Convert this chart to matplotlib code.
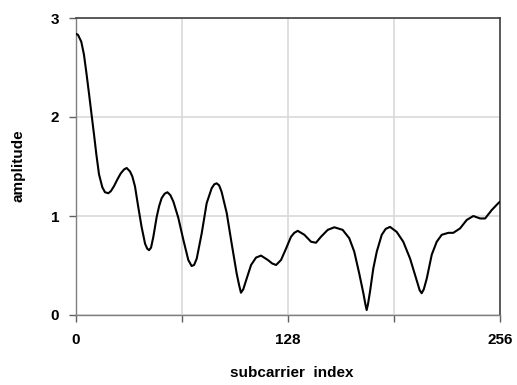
import matplotlib
matplotlib.use("Agg")
import matplotlib.pyplot as plt

subcarrier = [0, 1.2, 3.2, 4.8, 6.4, 7.9, 9.5, 10.9, 12.3, 13.9, 15.9, 17.5, 19.5, 21, 22.9, 25, 27, 29, 30.6,
              32.6, 34, 35.6, 37.6, 39.6, 41.7, 43, 44.1, 45.3, 46.7, 48.7, 50.2, 51.7, 53.5, 55.2, 57, 58.8, 61.8,
              64.8, 67.8, 69.8, 71.3, 72.9, 75.9, 78.9, 81.9, 83.5, 84.9, 86.4, 87.9, 91, 94, 97, 98.5, 99.6,
              101, 102.7, 105.7, 108.7, 111.7, 115.8, 118.5, 120.8, 123.8, 126.8, 129.8, 131.8, 133.9, 137.9,
              141.9, 144.9, 147.9, 152, 156, 161, 165, 168, 171, 173.5, 174.7, 175.5, 176.3, 177.5, 179.5,
              181.6, 184.6, 187, 189.6, 193.6, 197.6, 201.7, 205.7, 207.5, 208.7, 210, 211.8, 214.8, 217.8,
              220.8, 224.8, 227.8, 231.9, 235.9, 239.9, 244, 247, 251, 255, 256]
amplitude = [2.84, 2.83, 2.76, 2.63, 2.43, 2.23, 2.01, 1.82, 1.62, 1.42, 1.29, 1.24, 1.23, 1.25, 1.30, 1.37, 1.43, 1.47, 1.485,
             1.45, 1.40, 1.30, 1.09, 0.89, 0.72, 0.67, 0.655, 0.68, 0.79, 0.99, 1.10, 1.18, 1.225, 1.24, 1.21, 1.145, 0.98,
             0.76, 0.556, 0.495, 0.505, 0.57, 0.825, 1.13, 1.28, 1.32, 1.33, 1.31, 1.245, 1.03, 0.72, 0.42, 0.30, 0.225,
             0.26, 0.35, 0.505, 0.58, 0.60, 0.556, 0.52, 0.505, 0.556, 0.67, 0.79, 0.83, 0.85, 0.81,
             0.74, 0.73, 0.79, 0.86, 0.886, 0.86, 0.775, 0.64, 0.42, 0.22, 0.11, 0.05, 0.11, 0.235, 0.47,
             0.64, 0.81, 0.87, 0.89, 0.84, 0.74, 0.57, 0.35, 0.25, 0.22, 0.26, 0.37, 0.61, 0.74,
             0.81, 0.83, 0.83, 0.875, 0.96, 1.00, 0.975, 0.975, 1.06, 1.13, 1.145]

x_ticks = [0, 64, 128, 192, 256]
x_tick_labels = ["0", "", "128", "", "256"]
y_ticks = [0, 1, 2, 3]
y_tick_labels = ["0", "1", "2", "3"]

plt.rcParams['font.family'] = ['Liberation Sans', 'DejaVu Sans']

W, H = 517, 385
fig = plt.figure(figsize=(W/100, H/100), dpi=100)
ax = fig.add_axes([76/W, 70/H, 424/W, 297/H])

ax.plot(subcarrier, amplitude, color='black', linewidth=1.5, solid_capstyle='round', solid_joinstyle='round', zorder=3)

ax.set_xlim(0, 256)
ax.set_ylim(0, 3)
ax.set_xticks(x_ticks)
ax.set_xticklabels(x_tick_labels, fontweight='bold', fontsize=11)
ax.set_yticks(y_ticks)
ax.set_yticklabels(y_tick_labels, fontweight='bold', fontsize=11)
ax.grid(True, color='#d9d9d9', linewidth=1.2, zorder=0)
ax.set_axisbelow(True)

ax.tick_params(axis='x', direction='out', length=5, width=1, color='#606060', pad=8)
ax.tick_params(axis='y', direction='out', length=5, width=1, color='#606060', pad=7)

for s in ['left', 'bottom']:
    ax.spines[s].set_color('#7f7f7f')
    ax.spines[s].set_linewidth(1.0)
for s in ['top', 'right']:
    ax.spines[s].set_color('#404040')
    ax.spines[s].set_linewidth(1.2)

fig.text(292/W, 1 - 373/H, 'subcarrier  index', fontweight='bold', fontsize=11,
         ha='center', va='center')
fig.text(19/W, 1 - 166/H, 'amplitude', fontweight='bold', fontsize=11,
         ha='center', va='center', rotation=90)

fig.savefig('out.png', dpi=100)
